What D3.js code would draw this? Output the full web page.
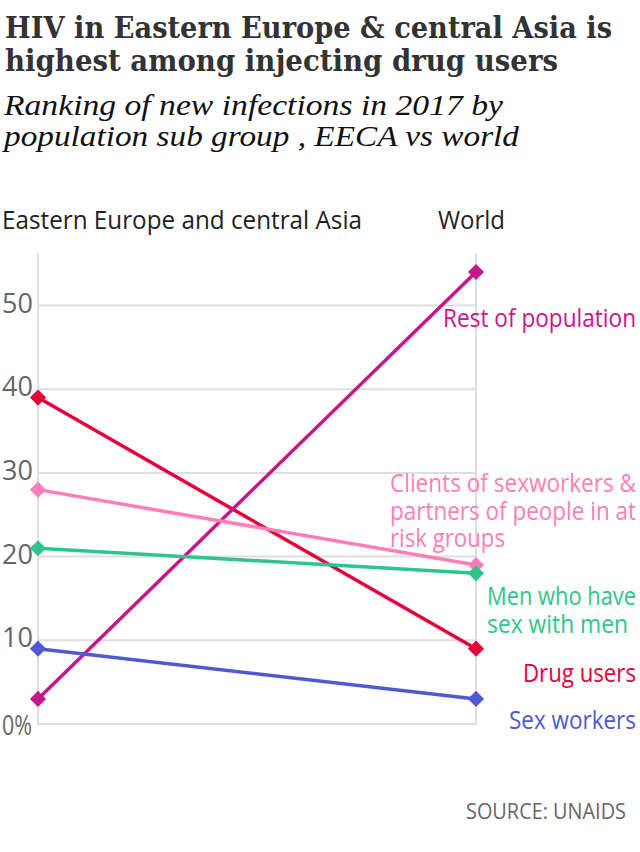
<!DOCTYPE html>
<html lang="en">
<head>
<meta charset="UTF-8">
<title>HIV in EECA vs world</title>
<script src="https://d3js.org/d3.v7.min.js"></script>
<style>
    body { margin: 0; background: #fff; }
    svg { display: block; }
    .serif { font-family: "Liberation Serif", "DejaVu Serif", serif; }
    .serif-bold { font-family: "DejaVu Serif", "Liberation Serif", serif; }
    .sans { font-family: "Open Sans", "Noto Sans", "DejaVu Sans", sans-serif; }
</style>
</head>
<body>
<svg id="chart"></svg>
<script>
    const columns = ["Eastern Europe and central Asia", "World"];
    const groups = ["Drug users", "Rest of population", "Clients & partners", "Men who have sex with men", "Sex workers"];
    const eeca = [39, 3, 28, 21, 9];
    const world = [9, 54, 19, 18, 3];
    const colors = ["#e5003b", "#c7168b", "#ff7db8", "#2fc48e", "#4f59d1"];
    const labelLines = [
        ["Drug users"],
        ["Rest of population"],
        ["Clients of sexworkers &", "partners of people in at", "risk groups"],
        ["Men who have", "sex with men"],
        ["Sex workers"]
    ];
    const yTicks = [0, 10, 20, 30, 40, 50];

    const width = 640, height = 852;
    const svg = d3.select("#chart").attr("width", width).attr("height", height);

    // squeeze text to the width it has in the original
    function fit(sel, w) {
        sel.each(function () {
            const len = this.getComputedTextLength();
            if (Math.abs(len - w) > 1) {
                d3.select(this).attr("textLength", w).attr("lengthAdjust", "spacingAndGlyphs");
            }
        });
    }

    // titles
    const title = ["HIV in Eastern Europe & central Asia is", "highest among injecting drug users"];
    const titleW = [607, 553];
    title.forEach((t, i) => {
        svg.append("text").attr("class", "serif-bold")
            .attr("x", 5).attr("y", 38 + i * 33)
            .attr("font-size", 30).attr("font-weight", "bold").attr("fill", "#333")
            .text(t).call(fit, titleW[i]);
    });
    const sub = ["Ranking of new infections in 2017 by", "population sub group , EECA vs world"];
    const subW = [499, 515];
    sub.forEach((t, i) => {
        svg.append("text").attr("class", "serif")
            .attr("x", 4).attr("y", 115 + i * 31)
            .attr("font-size", 29).attr("font-style", "italic").attr("fill", "#111")
            .text(t).call(fit, subW[i]);
    });

    const x = d3.scalePoint().domain(columns).range([38, 476]);
    const y = d3.scaleLinear().domain([0, 50]).range([724, 305.5]);

    // column headers
    svg.append("text").attr("class", "sans")
        .attr("x", 2).attr("y", 229).attr("font-size", 25).attr("fill", "#222")
        .text(columns[0]).call(fit, 360);
    svg.append("text").attr("class", "sans")
        .attr("x", 438).attr("y", 229).attr("font-size", 25).attr("fill", "#222")
        .text(columns[1]).call(fit, 67);

    // grid
    const grid = svg.append("g");
    grid.selectAll("line.h").data(yTicks).join("line")
        .attr("class", "h")
        .attr("x1", x(columns[0])).attr("x2", x(columns[1]))
        .attr("y1", d => y(d)).attr("y2", d => y(d))
        .attr("stroke", "#dedede").attr("stroke-width", 2);
    grid.selectAll("line.v").data(columns).join("line")
        .attr("class", "v")
        .attr("x1", d => x(d)).attr("x2", d => x(d))
        .attr("y1", y(56.3)).attr("y2", y(0) + 1)
        .attr("stroke", "#dedede").attr("stroke-width", 2);

    grid.selectAll("text").data(yTicks).join("text")
        .attr("class", "sans")
        .attr("x", 2)
        .attr("y", d => y(d) + (d === 0 ? 11 : 7))
        .attr("font-size", 27).attr("fill", "#666")
        .text(d => d === 0 ? "0%" : d)
        .call(fit, 30);

    // lines and markers
    const series = groups.map((g, i) => ({ name: g, color: colors[i], values: [eeca[i], world[i]] }));
    const line = d3.line().x((d, i) => x(columns[i])).y(d => y(d));
    const diamond = d3.symbol().type(d3.symbolSquare).size(130);

    const s = svg.append("g").selectAll("g").data(series).join("g");
    s.append("path")
        .attr("d", d => line(d.values))
        .attr("fill", "none").attr("stroke", d => d.color).attr("stroke-width", 3.5);
    s.selectAll("path.m").data(d => d.values.map((v, i) => ({ v, i, color: d.color }))).join("path")
        .attr("class", "m")
        .attr("d", diamond)
        .attr("transform", d => `translate(${x(columns[d.i])},${y(d.v)}) rotate(45)`)
        .attr("fill", d => d.color);

    // labels at the world end
    const labelPos = [
        { x: 636, y: 682, anchor: "end", w: [113] },
        { x: 636, y: 327, anchor: "end", w: [193] },
        { x: 390, y: 492, anchor: "start", w: [246, 246, 115] },
        { x: 487, y: 605, anchor: "start", w: [149, 141] },
        { x: 636, y: 729, anchor: "end", w: [127] }
    ];
    labelLines.forEach((lines, i) => {
        const p = labelPos[i];
        lines.forEach((t, j) => {
            svg.append("text").attr("class", "sans")
                .attr("x", p.x).attr("y", p.y + j * 27.5)
                .attr("text-anchor", p.anchor)
                .attr("font-size", 25).attr("fill", colors[i])
                .text(t).call(fit, p.w[j]);
        });
    });

    svg.append("text").attr("class", "sans")
        .attr("x", 626).attr("y", 819).attr("text-anchor", "end")
        .attr("font-size", 22).attr("fill", "#666")
        .text("SOURCE: UNAIDS").call(fit, 160);
</script>
</body>
</html>
